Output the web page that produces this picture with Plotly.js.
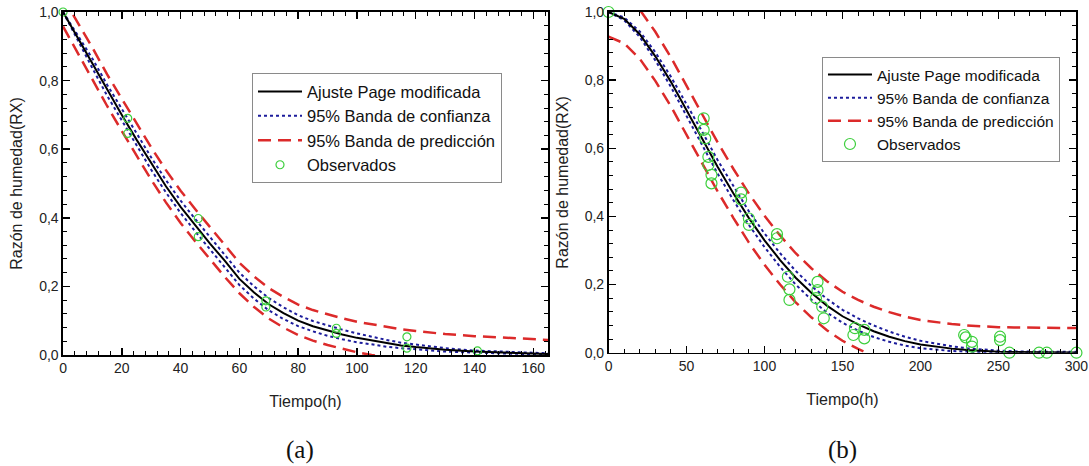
<!DOCTYPE html>
<html>
<head>
<meta charset="utf-8">
<script src="https://cdn.plot.ly/plotly-3.0.1.min.js"></script>
<style>html,body{margin:0;padding:0;background:#fff;}#chart{width:1089px;height:466px;}</style>
</head>
<body>
<div id="chart"></div>
<script>
// ---------- Panel (a) ----------
var tA = [0,5,10,15,20,25,30,35,40,45,50,55,60,65,70,75,80,85,90,95,100,105,110,115,120,130,140,150,160,165];
var fitA = [1.0,0.925,0.85,0.772,0.70,0.628,0.558,0.492,0.432,0.378,0.325,0.275,0.222,0.182,0.148,0.122,0.100,0.084,0.071,0.060,0.050,0.042,0.034,0.028,0.023,0.015,0.010,0.007,0.004,0.003];
var confUpA = [1.0,0.934,0.864,0.788,0.717,0.646,0.576,0.510,0.450,0.396,0.343,0.293,0.240,0.200,0.166,0.139,0.116,0.099,0.086,0.074,0.063,0.053,0.044,0.036,0.030,0.020,0.013,0.009,0.006,0.005];
var confLoA = [1.0,0.916,0.836,0.756,0.683,0.610,0.540,0.474,0.414,0.360,0.307,0.257,0.204,0.164,0.130,0.105,0.084,0.069,0.056,0.046,0.037,0.031,0.024,0.020,0.016,0.010,0.007,0.005,0.002,0.001];
var predUpA = [1.042,0.970,0.896,0.818,0.747,0.675,0.605,0.539,0.479,0.425,0.372,0.322,0.269,0.229,0.195,0.169,0.147,0.131,0.118,0.107,0.097,0.089,0.081,0.075,0.070,0.061,0.055,0.050,0.046,0.044];
var predLoA = [0.958,0.880,0.804,0.726,0.653,0.581,0.511,0.445,0.385,0.331,0.278,0.228,0.180,0.140,0.106,0.080,0.058,0.042,0.029,0.018,0.008,0.0,-0.008,-0.014,-0.019,-0.027,-0.032,-0.035,-0.038,-0.038];
var tObsA = [0,22,22,46,46,69,69,93,93,117,117,141];
var rxObsA = [1.0,0.69,0.646,0.398,0.345,0.158,0.14,0.078,0.063,0.053,0.02,0.012];

// ---------- Panel (b) ----------
var tB = [0,10,20,30,40,50,60,70,80,90,100,110,120,130,140,150,160,170,180,190,200,210,220,230,240,250,260,270,280,290,300];
var fitB = [1.0,0.98,0.935,0.87,0.795,0.713,0.63,0.545,0.468,0.395,0.33,0.272,0.22,0.176,0.138,0.107,0.083,0.063,0.047,0.034,0.024,0.017,0.012,0.008,0.005,0.003,0.002,0.0015,0.001,0.0007,0.0005];
var confUpB = [1.0,0.984,0.943,0.882,0.81,0.731,0.649,0.565,0.488,0.415,0.35,0.292,0.24,0.196,0.158,0.126,0.101,0.08,0.062,0.047,0.035,0.026,0.019,0.013,0.009,0.006,0.004,0.0035,0.003,0.0027,0.0025];
var confLoB = [1.0,0.976,0.927,0.858,0.78,0.695,0.611,0.525,0.448,0.375,0.31,0.252,0.2,0.156,0.118,0.088,0.065,0.046,0.032,0.021,0.013,0.008,0.005,0.003,0.001,0,0,0,0,0,0];
var predUpB = [1.072,1.052,1.007,0.942,0.867,0.785,0.702,0.617,0.54,0.467,0.402,0.344,0.292,0.248,0.21,0.179,0.155,0.135,0.119,0.106,0.096,0.089,0.084,0.080,0.077,0.075,0.074,0.0735,0.073,0.0727,0.0725];
var predLoB = [0.928,0.908,0.863,0.798,0.723,0.641,0.558,0.473,0.396,0.323,0.258,0.200,0.148,0.104,0.066,0.035,0.011,-0.009,-0.025,-0.038,-0.048,-0.055,-0.060,-0.064,-0.067,-0.069,-0.070,-0.0705,-0.071,-0.0713,-0.0715];
var tObsB = [0,61,61,62,64,64,66,66,85,85,90,90,108,108,115,116,116,134,134,133,137,138,157,158,164,164,228,229,233,233,251,251,257,276,281,300];
var rxObsB = [1.0,0.688,0.654,0.629,0.575,0.551,0.522,0.497,0.47,0.45,0.394,0.375,0.348,0.336,0.223,0.186,0.155,0.208,0.184,0.16,0.135,0.101,0.052,0.072,0.067,0.042,0.052,0.045,0.032,0.018,0.047,0.037,0.0,0.0,0.0,0.0];

var names = ['Ajuste Page modificada','95% Banda de confianza','95% Banda de predicción','Observados'];

var cBlack = '#000000', cBlue = '#1c1c9c', cRed = '#dc2a2a', cGreen = '#3ccf3c';

function panel(t, fit, cu, cl, pu, pl, to, ro, xa, ya, leg, msize) {
  return [
    {x:t, y:pu, xaxis:xa, yaxis:ya, mode:'lines', name:names[2], legend:leg, legendrank:3,
     line:{color:cRed, width:2.5, dash:'13px,7px'}, showlegend:true},
    {x:t, y:pl, xaxis:xa, yaxis:ya, mode:'lines', name:names[2], legend:leg,
     line:{color:cRed, width:2.5, dash:'13px,7px'}, showlegend:false},
    {x:t, y:cu, xaxis:xa, yaxis:ya, mode:'lines', name:names[1], legend:leg, legendrank:2,
     line:{color:cBlue, width:2, dash:'dot'}, showlegend:true},
    {x:t, y:cl, xaxis:xa, yaxis:ya, mode:'lines', name:names[1], legend:leg,
     line:{color:cBlue, width:2, dash:'dot'}, showlegend:false},
    {x:t, y:fit, xaxis:xa, yaxis:ya, mode:'lines', name:names[0], legend:leg, legendrank:1,
     line:{color:cBlack, width:2}, showlegend:true},
    {x:to, y:ro, xaxis:xa, yaxis:ya, mode:'markers', name:names[3], legend:leg, legendrank:4,
     cliponaxis:false,
     marker:{symbol:'circle-open', size:msize, color:cGreen, line:{width:1.2, color:cGreen}}, showlegend:true}
  ];
}

var data = [].concat(
  panel(tA, fitA, confUpA, confLoA, predUpA, predLoA, tObsA, rxObsA, 'x', 'y', 'legend', 8),
  panel(tB, fitB, confUpB, confLoB, predUpB, predLoB, tObsB, rxObsB, 'x2', 'y2', 'legend2', 11)
);

var tickFont = {family:'Arial, Liberation Sans, sans-serif', size:14, color:'#222'};
var titleFont = {family:'Arial, Liberation Sans, sans-serif', size:16, color:'#222'};

function xax(dom, range, dtick, mdtick, anchor) {
  return {domain:dom, range:range, anchor:anchor, dtick:dtick, tick0:0,
    showline:true, linecolor:'#000', linewidth:1.6, mirror:'ticks',
    ticks:'inside', ticklen:7, tickwidth:1.5, tickcolor:'#000',
    minor:{dtick:mdtick, ticks:'inside', ticklen:4, tickwidth:1, tickcolor:'#000', showgrid:false},
    showgrid:false, zeroline:false, tickfont:tickFont, ticklabeloverflow:'allow',
    title:{text:'Tiempo(h)', font:titleFont, standoff:20}};
}
function yax(dom, anchor) {
  return {domain:dom, range:[0,1], anchor:anchor, dtick:0.2, tick0:0, tickformat:'.1f',
    showline:true, linecolor:'#000', linewidth:1.6, mirror:'ticks',
    ticks:'inside', ticklen:7, tickwidth:1.5, tickcolor:'#000',
    minor:{dtick:0.04, ticks:'inside', ticklen:4, tickwidth:1, tickcolor:'#000', showgrid:false},
    showgrid:false, zeroline:false, tickfont:tickFont,
    title:{text:'Razón de humedad(RX)', font:titleFont, standoff:12}};
}

var legendStyle = function(x, y, size) {
  return {x:x, y:y, xanchor:'left', yanchor:'top', xref:'paper', yref:'paper',
    bgcolor:'#fff', bordercolor:'#8a8a8a', borderwidth:1,
    font:{family:'Arial, Liberation Sans, sans-serif', size:size, color:'#111'},
    traceorder:'normal', itemwidth:44, tracegroupgap:0};
};

var layout = {
  width:1089, height:466,
  margin:{l:0, r:0, t:0, b:0},
  paper_bgcolor:'#fff', plot_bgcolor:'#fff',
  separators:',.',
  showlegend:true,
  xaxis: xax([0.0579,0.5032],[0,165],20,4,'y'),
  yaxis: yax([0.2382,0.9742],'x'),
  xaxis2: xax([0.5588,0.9885],[0,300.02],50,10,'y2'),
  yaxis2: yax([0.2431,0.9742],'x2'),
  legend: legendStyle(0.2314, 0.843, 16.5),
  legend2: legendStyle(0.7548, 0.8777, 15.5),
  annotations:[
    {text:'(a)', xref:'paper', yref:'paper', x:0.2755, y:0.034, showarrow:false,
     xanchor:'center', yanchor:'middle', font:{family:'Liberation Serif, Times New Roman, serif', size:25, color:'#111'}},
    {text:'(b)', xref:'paper', yref:'paper', x:0.7732, y:0.034, showarrow:false,
     xanchor:'center', yanchor:'middle', font:{family:'Liberation Serif, Times New Roman, serif', size:25, color:'#111'}}
  ]
};

Plotly.newPlot('chart', data, layout, {staticPlot:true, displayModeBar:false});
</script>
</body>
</html>
